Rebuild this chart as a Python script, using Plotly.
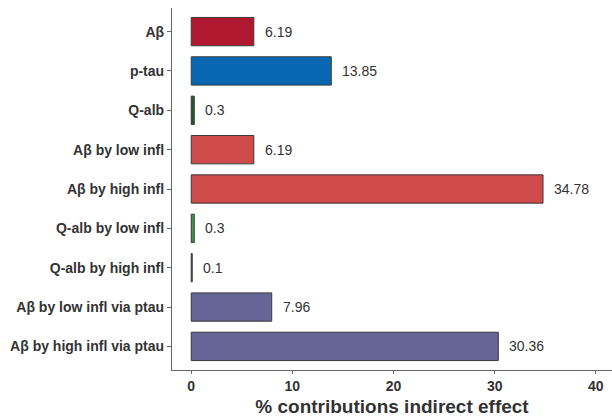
import plotly.graph_objects as go

categories = [
    "Aβ", "p-tau", "Q-alb", "Aβ by low infl", "Aβ by high infl",
    "Q-alb by low infl", "Q-alb by high infl",
    "Aβ by low infl via ptau", "Aβ by high infl via ptau",
]
values = [6.19, 13.85, 0.3, 6.19, 34.78, 0.3, 0.1, 7.96, 30.36]
colors = [
    "#B0182F", "#0867B1", "#1F5A2B", "#CF4A4B", "#CF4A4B",
    "#3C9A45", "#1F5A2B", "#666597", "#666597",
]
x_ticks = [0, 10, 20, 30, 40]
x_title = "% contributions indirect effect"

font_family = "Liberation Sans, Arial, sans-serif"
ink = "#333333"
axis_col = "#666666"

fig = go.Figure()
fig.add_trace(go.Bar(
    y=categories,
    x=values,
    orientation="h",
    width=0.72,
    marker=dict(color=colors, line=dict(color="#3a3a3a", width=1)),
    hoverinfo="x+y",
))

# value labels just right of each bar end
for cat, v in zip(categories, values):
    fig.add_annotation(
        x=v, y=cat, text=str(v), showarrow=False,
        xanchor="left", yanchor="middle", xshift=9,
        font=dict(family=font_family, size=14, color=ink),
    )

fig.update_layout(
    width=612, height=420,
    margin=dict(l=172, r=0, t=8, b=50),
    paper_bgcolor="white", plot_bgcolor="white",
    showlegend=False,
    font=dict(family=font_family, color=ink),
    xaxis=dict(
        range=[-1.9, 41.6],
        tickvals=x_ticks,
        ticks="outside", ticklen=3, tickcolor=axis_col, tickwidth=1,
        showline=True, linecolor=axis_col, linewidth=1.2,
        showgrid=False, zeroline=False,
        tickfont=dict(family=font_family, size=14, color=ink, weight="bold"),
        title=dict(text=x_title, standoff=6,
                   font=dict(family=font_family, size=19, color=ink, weight="bold")),
    ),
    yaxis=dict(
        categoryorder="array", categoryarray=categories,
        range=[8.6, -0.6],
        ticks="outside", ticklen=4, tickcolor=axis_col, tickwidth=1,
        showline=True, linecolor=axis_col, linewidth=1.2,
        showgrid=False, zeroline=False,
        tickfont=dict(family=font_family, size=14, color=ink, weight="bold"),
    ),
)

fig.write_html("out.html")
